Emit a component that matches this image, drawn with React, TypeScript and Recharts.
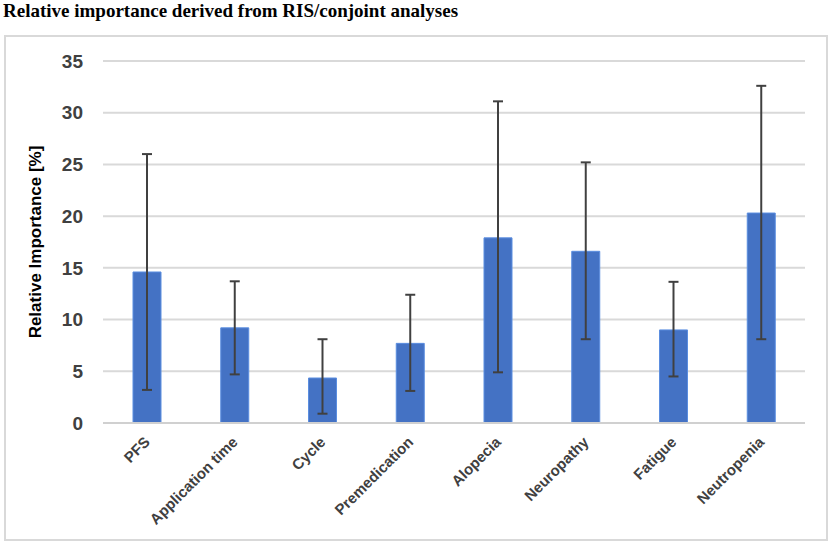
import React from "react";
import {
  ComposedChart,
  Bar,
  XAxis,
  YAxis,
  CartesianGrid,
  ErrorBar,
} from "recharts";

const categories = [
  "PFS",
  "Application time",
  "Cycle",
  "Premedication",
  "Alopecia",
  "Neuropathy",
  "Fatigue",
  "Neutropenia",
];
const importance = [14.6, 9.2, 4.35, 7.7, 17.9, 16.6, 9.0, 20.3];
const lowerBound = [3.2, 4.7, 0.9, 3.1, 4.9, 8.1, 4.5, 8.1];
const upperBound = [26.0, 13.7, 8.1, 12.4, 31.1, 25.2, 13.65, 32.6];
const yTicks = [0, 5, 10, 15, 20, 25, 30, 35];

const data = categories.map((name, i) => ({
  name,
  value: importance[i],
  err: [importance[i] - lowerBound[i], upperBound[i] - importance[i]],
}));

const AngledTick = (props: any) => {
  const { x, y, payload } = props;
  return (
    <g transform={`translate(${x + 4},${y + 12})`}>
      <text
        textAnchor="end"
        transform="rotate(-45)"
        fill="#404040"
        fontSize={15}
        fontWeight="bold"
        fontFamily="Arial, 'Liberation Sans', sans-serif"
      >
        {payload.value}
      </text>
    </g>
  );
};

export default function App() {
  return (
    <div
      style={{
        position: "absolute",
        left: 0,
        top: 0,
        width: 835,
        height: 548,
        background: "#fff",
      }}
    >
      <div
        style={{
          position: "absolute",
          left: 3,
          top: 0,
          fontFamily: "'Times New Roman', 'Liberation Serif', serif",
          fontWeight: "bold",
          fontSize: 19,
          color: "#000",
          whiteSpace: "nowrap",
        }}
      >
        Relative importance derived from RIS/conjoint analyses
      </div>
      <div
        style={{
          position: "absolute",
          left: 4,
          top: 35,
          width: 824,
          height: 506,
          border: "2px solid #d9d9d9",
          boxSizing: "border-box",
        }}
      />
      <div style={{ position: "absolute", left: 0, top: 0 }}>
        <ComposedChart
          width={835}
          height={548}
          data={data}
          margin={{ top: 61, right: 30, bottom: 0, left: 43 }}
          barCategoryGap="34%"
        >
          <CartesianGrid
            vertical={false}
            stroke="#d9d9d9"
            strokeWidth={2}
          />
          <XAxis
            dataKey="name"
            interval={0}
            tick={<AngledTick />}
            tickLine={false}
            axisLine={{ stroke: "#d0d0d0", strokeWidth: 2 }}
            height={125}
          />
          <YAxis
            domain={[0, 35]}
            ticks={yTicks}
            width={60}
            axisLine={false}
            tickLine={false}
            tickSize={0}
            tickMargin={20}
            tick={{
              fill: "#404040",
              fontSize: 19,
              fontWeight: "bold",
              fontFamily: "Arial, 'Liberation Sans', sans-serif",
            }}
            label={{
              value: "Relative Importance [%]",
              angle: -90,
              position: "insideLeft",
              dx: -13,
              dy: 0,
              style: {
                textAnchor: "middle",
                fill: "#000",
                fontSize: 17,
                fontWeight: "bold",
                fontFamily: "Arial, 'Liberation Sans', sans-serif",
              },
            }}
          />
          <Bar
            dataKey="value"
            fill="#4472C4"
            stroke="#5b8ee0"
            strokeWidth={1}
            barSize={28}
            isAnimationActive={false}
          >
            <ErrorBar
              dataKey="err"
              width={5}
              stroke="#404040"
              strokeWidth={2}
              isAnimationActive={false}
            />
          </Bar>
        </ComposedChart>
      </div>
    </div>
  );
}
